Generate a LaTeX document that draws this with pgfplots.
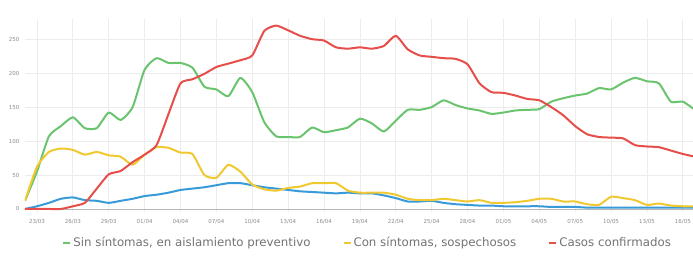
\documentclass[border=0pt]{standalone}
\usepackage{pgfplots}
\pgfplotsset{compat=1.18}
\usepackage{fontspec}
\setmainfont{DejaVu Sans}
\definecolor{cgreen}{RGB}{106,196,110}
\definecolor{cyellow}{RGB}{240,200,48}
\definecolor{cred}{RGB}{230,78,74}
\definecolor{cblue}{RGB}{56,154,216}
\definecolor{cgrid}{RGB}{236,236,236}
\definecolor{ctext}{RGB}{115,115,115}

\pgfplotstableread{
d green yellow red blue
0 12 12 0 0
1 55 62 0 4
2 107 84 0 9
3 122 89 0 15
4 135 87 4 17
5 119 80 9 13
6 119 84 30 12
7 142 79 51 9
8 131 77 56 12
9 150 65 69 15
10 205 80 80 19
11 222 91 94 21
12 215 90 140 24
13 215 83 185 28
14 208 81 191 30
15 180 50 199 32
16 176 46 209 35
17 166 65 214 38
18 193 55 219 38
19 172 36 226 35
20 128 29 262 32
21 107 27 270 30
22 106 31 263 28
23 106 33 255 26
24 120 38 250 25
25 113 38 248 24
26 116 38 238 23
27 120 27 236 24
28 133 24 238 23
29 126 24 236 23
30 114 24 240 20
31 130 21 255 16
32 146 15 235 11
33 146 13 226 11
34 150 13 224 12
35 160 15 222 9
36 153 13 221 7
37 148 11 213 6
38 145 13 185 5
39 140 9 172 5
40 142 9 171 4
41 145 10 167 4
42 146 12 162 4
43 147 15 160 4
44 158 15 150 3
45 163 11 138 3
46 167 11 122 3
47 170 7 110 2
48 178 6 106 2
49 176 18 105 2
50 186 16 104 2
51 193 13 94 2
52 188 6 92 2
53 185 8 91 2
54 158 5 86 2
55 158 4 81 2
56 146 4 77 2
}\datatable

\begin{document}
\begin{tikzpicture}[x=1pt,y=1pt]
\path[use as bounding box] (0,0) rectangle (693,264);
\begin{axis}[
  at={(25pt,52.3pt)}, anchor=south west,
  scale only axis, width=668pt, height=192.9pt,
  xmin=0, xmax=55.85, ymin=-4, ymax=280,
  axis line style={draw=none},
  major tick length=0pt,
  xtick={1,4,...,55},
  xticklabels={23/03,26/03,29/03,01/04,04/04,07/04,10/04,13/04,16/04,19/04,22/04,25/04,28/04,01/05,04/05,07/05,10/05,13/05,16/05},
  ytick={50,100,...,250},
  extra y ticks={0},
  extra y tick style={grid style={draw=black!28, line width=0.8pt}},
  grid=major,
  grid style={draw=cgrid, line width=0.7pt},
  /pgf/number format/assume math mode=true,
  ticklabel style={font=\fontsize{5.5}{6}\selectfont, text=black!45},
  xticklabel style={yshift=-4pt},
  yticklabel style={xshift=-2pt},
  legend columns=3,
  legend style={at={(0.513,-0.162)}, anchor=center, draw=none, fill=none,
    font=\fontsize{11.8}{13}\selectfont, text=ctext,
    /tikz/every even column/.append style={column sep=30pt},
    inner sep=0pt},
  legend image code/.code={\draw[#1, line width=2pt] (0pt,0pt) -- (7pt,0pt);},
  every axis plot/.append style={line width=2pt, smooth, tension=0.35, line join=round},
]
\addplot[cblue, forget plot] table[x=d, y=blue] {\datatable};
\addplot[cgreen] table[x=d, y=green] {\datatable};
\addlegendentry{Sin síntomas, en aislamiento preventivo}
\addplot[cyellow] table[x=d, y=yellow] {\datatable};
\addlegendentry{Con síntomas, sospechosos}
\addplot[cred] table[x=d, y=red] {\datatable};
\addlegendentry{Casos confirmados}
\end{axis}
\end{tikzpicture}
\end{document}
